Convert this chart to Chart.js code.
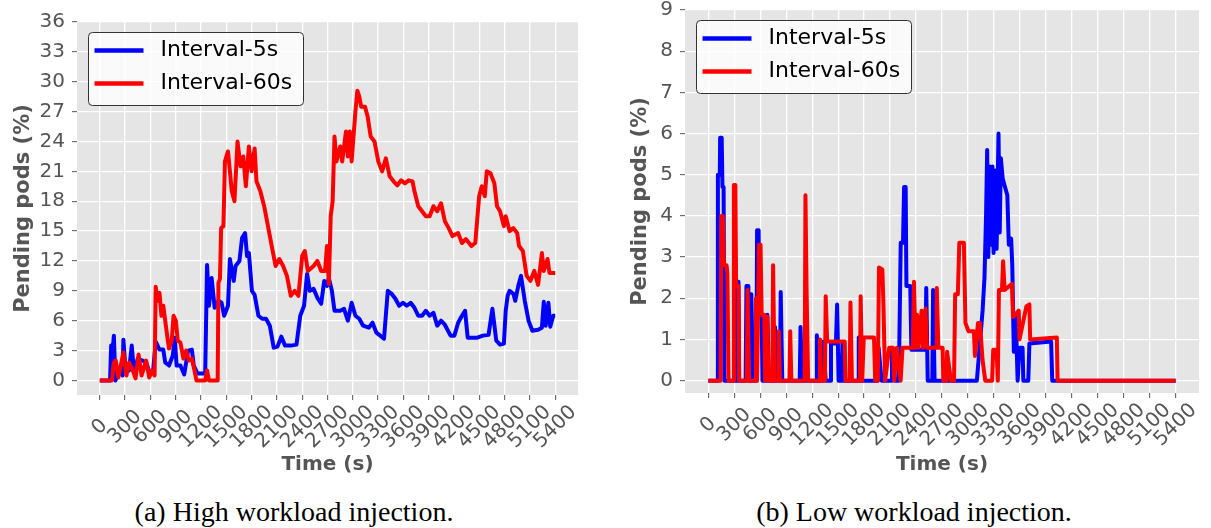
<!DOCTYPE html>
<html>
<head>
<meta charset="utf-8">
<script src="https://cdn.jsdelivr.net/npm/chart.js@4.4.0/dist/chart.umd.min.js"></script>
<style>
  body { margin: 0; background: #fff; width: 1211px; height: 528px; position: relative; overflow: hidden; }
  canvas { position: absolute; top: 0; }
  #chartHigh { left: 0; }
  #chartLow { left: 600px; }
  .caption {
    position: absolute; top: 498px; line-height: 28px; white-space: nowrap;
    font-family: "Liberation Serif", serif; font-size: 28px; color: #000;
    transform: translateX(-50%);
  }
</style>
</head>
<body>
<canvas id="chartHigh" width="600" height="480"></canvas>
<canvas id="chartLow" width="611" height="480"></canvas>
<div class="caption" style="left:294px">(a) High workload injection.</div>
<div class="caption" style="left:914px">(b) Low workload injection.</div>

<script>
// Tick labels
const xTicks = [0, 300, 600, 900, 1200, 1500, 1800, 2100, 2400, 2700, 3000, 3300, 3600, 3900, 4200, 4500, 4800, 5100, 5400]
const yTicksHigh = [0, 3, 6, 9, 12, 15, 18, 21, 24, 27, 30, 33, 36]
const yTicksLow = [0, 1, 2, 3, 4, 5, 6, 7, 8, 9]

// (a) High workload - Interval-5s
const highT5 = [0, 122, 135, 153, 167, 185, 235, 271, 280, 302, 347, 379, 406, 451, 505, 550, 586, 632, 663, 708, 753, 776, 821, 866, 889, 911, 956, 1001, 1047, 1092, 1114, 1159, 1250, 1272, 1295, 1326, 1362, 1407, 1444, 1475, 1520, 1543, 1588, 1610, 1656, 1687, 1723, 1746, 1768, 1804, 1836, 1881, 1926, 1971, 2016, 2062, 2107, 2152, 2197, 2265, 2332, 2377, 2422, 2458, 2490, 2535, 2580, 2625, 2661, 2693, 2716, 2752, 2783, 2851, 2896, 2941, 2986, 3031, 3077, 3122, 3189, 3234, 3280, 3325, 3370, 3415, 3460, 3505, 3550, 3595, 3640, 3686, 3731, 3776, 3821, 3866, 3911, 3956, 4001, 4046, 4091, 4159, 4204, 4249, 4294, 4331, 4362, 4475, 4543, 4610, 4655, 4701, 4746, 4791, 4813, 4836, 4859, 4904, 4926, 4962, 4994, 5039, 5084, 5129, 5197, 5242, 5264, 5287, 5319, 5341, 5377, 5400]
const highV5 = [0, 0, 3.5, 3.0, 4.5, 0, 1.0, 0.5, 4.1, 1.5, 1.0, 3.5, 0.8, 2.2, 2.0, 1.8, 0.9, 0.9, 3.9, 3.1, 3.1, 1.8, 1.5, 2.5, 4.3, 1.5, 1.5, 0.6, 3.0, 3.1, 1.5, 0.7, 0.7, 11.6, 7.5, 10.3, 7.3, 8.0, 7.8, 6.5, 7.5, 12.2, 10.0, 11.5, 12.0, 14.3, 14.8, 12.5, 12.8, 9.0, 8.6, 6.5, 6.2, 6.2, 5.5, 3.3, 3.4, 4.4, 3.5, 3.5, 3.6, 6.5, 7.5, 10.7, 9.0, 9.2, 8.3, 7.7, 10.0, 9.5, 10.3, 9.0, 7.0, 7.0, 7.2, 6.0, 7.8, 6.5, 6.2, 5.5, 5.3, 5.8, 4.8, 4.5, 4.2, 9.0, 8.7, 8.2, 7.5, 7.8, 7.5, 7.8, 7.3, 6.5, 6.5, 7.0, 6.5, 6.8, 5.5, 6.0, 5.6, 4.5, 4.5, 5.8, 6.5, 7.0, 4.3, 4.3, 4.5, 4.6, 7.2, 4.0, 3.6, 3.7, 7.0, 8.5, 9.0, 8.7, 8.0, 9.5, 10.5, 8.0, 6.0, 5.0, 5.1, 5.3, 7.9, 5.5, 7.8, 5.4, 6.5, 6.5]

// (a) High workload - Interval-60s
const highT60 = [0, 144, 167, 189, 221, 280, 316, 347, 392, 424, 460, 496, 550, 586, 618, 650, 663, 686, 708, 731, 753, 776, 799, 821, 853, 875, 902, 925, 956, 992, 1024, 1056, 1092, 1123, 1146, 1250, 1272, 1295, 1398, 1407, 1425, 1439, 1466, 1484, 1520, 1543, 1565, 1597, 1633, 1669, 1701, 1732, 1768, 1800, 1836, 1858, 1904, 1949, 1994, 2039, 2084, 2129, 2174, 2219, 2265, 2310, 2355, 2400, 2431, 2467, 2535, 2580, 2625, 2671, 2693, 2716, 2738, 2761, 2783, 2806, 2851, 2874, 2919, 2941, 2964, 2986, 3031, 3054, 3077, 3099, 3144, 3176, 3212, 3257, 3302, 3347, 3392, 3437, 3483, 3528, 3573, 3618, 3663, 3708, 3731, 3776, 3821, 3866, 3911, 3956, 4001, 4046, 4091, 4137, 4182, 4249, 4294, 4340, 4407, 4452, 4498, 4529, 4565, 4588, 4633, 4678, 4710, 4746, 4791, 4813, 4859, 4904, 4949, 4971, 5016, 5061, 5106, 5152, 5197, 5242, 5264, 5309, 5332, 5400]
const highV60 = [0, 0, 1.8, 2.0, 0.3, 2.8, 0.5, 1.8, 1.0, 0.2, 2.6, 0.5, 2.0, 0.3, 1.0, 0.5, 9.4, 8.0, 8.8, 6.5, 7.5, 6.0, 4.5, 3.2, 4.0, 6.5, 6.0, 4.0, 3.8, 2.2, 3.0, 2.0, 2.2, 1.0, 0, 0, 1.0, 0, 0, 9.8, 10.2, 15.3, 15.5, 22, 23, 21, 19, 18, 24, 21.5, 22.5, 19.5, 23.5, 21, 23.3, 20, 19, 17.5, 15.5, 13.5, 11.5, 12.2, 11.5, 10.5, 8.5, 9, 8.5, 12.5, 13, 11, 11.5, 12, 11, 11, 13.5, 9.7, 16.5, 18, 24.5, 22, 23.5, 22, 25, 22.5, 25, 22, 27, 29.1, 28.5, 27.5, 27.5, 26.5, 24.5, 24, 22, 21, 22.3, 20.5, 20, 19.6, 20.1, 19.8, 20.1, 20, 19, 17.5, 17, 16.5, 16.5, 17.5, 17, 17.8, 16, 15.3, 14.5, 14.8, 13.8, 14.2, 13.5, 13.8, 18.5, 19.5, 18.5, 21, 20.8, 19.8, 17.5, 17, 15.5, 16.5, 15, 15.3, 14.8, 13.5, 13, 10.5, 10, 11, 9.6, 12.8, 11, 12.2, 10.8, 10.8]

// (b) Low workload - Interval-5s
const lowT5 = [0, 101, 110, 132, 136, 154, 163, 176, 185, 321, 330, 348, 356, 431, 440, 462, 471, 488, 497, 515, 555, 563, 581, 590, 616, 625, 673, 682, 700, 761, 770, 788, 827, 836, 854, 1056, 1065, 1083, 1245, 1254, 1276, 1320, 1329, 1356, 1408, 1417, 1474, 1488, 1505, 1540, 1549, 1571, 1730, 1738, 1765, 1958, 1967, 2002, 2112, 2121, 2157, 2200, 2209, 2223, 2249, 2262, 2280, 2289, 2333, 2346, 2509, 2518, 2535, 2588, 2597, 2614, 3103, 3169, 3191, 3209, 3222, 3235, 3252, 3266, 3283, 3296, 3314, 3331, 3353, 3367, 3380, 3402, 3428, 3455, 3472, 3499, 3512, 3530, 3552, 3574, 3596, 3631, 3640, 3697, 3710, 3961, 3974, 5400]
const lowV5 = [0, 0, 5.0, 5.0, 5.9, 5.9, 4.7, 4.7, 0, 0, 2.4, 2.4, 0, 0, 2.3, 2.3, 0, 0, 2.1, 0, 0, 3.65, 3.65, 1.6, 1.6, 0, 0, 1.6, 0, 0, 1.3, 0, 0, 2.15, 0, 0, 1.3, 0, 0, 1.1, 0, 0, 0.95, 0, 0, 0.9, 0.9, 1.85, 0, 0, 0.9, 0, 0, 1.05, 0, 0, 0.8, 0, 0, 0.8, 0, 0, 1.2, 3.35, 3.35, 4.7, 4.7, 2.3, 2.3, 0.75, 0.75, 2.25, 0, 0, 2.2, 0, 0, 1.7, 2.5, 4.0, 5.6, 3.0, 5.2, 3.3, 5.2, 3.1, 5.1, 3.2, 6.0, 3.6, 5.4, 4.9, 4.7, 4.5, 3.3, 3.45, 2.8, 0.7, 1.6, 0, 0.8, 0.8, 0, 0, 0.9, 0.95, 0, 0]

// (b) Low workload - Interval-60s
const lowT60 = [0, 141, 150, 167, 180, 211, 220, 233, 286, 295, 312, 321, 348, 356, 444, 453, 471, 541, 550, 563, 585, 603, 616, 647, 656, 682, 695, 739, 748, 766, 805, 814, 827, 937, 946, 959, 1113, 1122, 1135, 1153, 1281, 1290, 1303, 1347, 1356, 1373, 1576, 1584, 1633, 1642, 1659, 1752, 1760, 1778, 1796, 1914, 1928, 1958, 1972, 2011, 2024, 2042, 2090, 2134, 2147, 2178, 2222, 2244, 2363, 2376, 2394, 2412, 2429, 2464, 2482, 2509, 2526, 2632, 2640, 2658, 2707, 2715, 2751, 2759, 2803, 2839, 2852, 2883, 2900, 2953, 2971, 3006, 3068, 3081, 3116, 3138, 3169, 3200, 3279, 3292, 3331, 3345, 3358, 3393, 3406, 3424, 3508, 3521, 3587, 3596, 3675, 3710, 3719, 4027, 4036, 5400]
const lowV60 = [0, 0, 4.0, 4.0, 2.8, 2.8, 2.6, 0, 0, 4.75, 4.75, 2.3, 2.3, 0, 0, 2.2, 0, 0, 2.0, 0, 3.3, 3.3, 1.6, 1.6, 0, 1.55, 0, 0, 2.8, 0, 0, 1.2, 0, 0, 1.2, 0, 0, 4.5, 2.2, 0, 0, 1.0, 0, 0, 2.05, 0.95, 0.95, 0, 0, 1.9, 0, 0, 2.05, 0, 1.05, 1.05, 0, 0, 2.75, 2.7, 1.8, 0, 0.8, 0.8, 0, 0.8, 0, 0.8, 0.8, 2.4, 0.8, 1.6, 0.8, 1.7, 0.8, 1.75, 0.8, 0.8, 2.25, 0.8, 0.8, 0, 0, 0.7, 0, 0, 2.1, 2.1, 3.35, 3.35, 1.4, 1.2, 1.2, 0.6, 1.4, 1.4, 0.5, 0, 0, 0.75, 0.75, 0, 2.2, 2.2, 2.9, 2.2, 2.35, 1.55, 1.7, 1.0, 1.8, 1.85, 1.0, 1.05, 0, 0]

const GREY = '#555555'
const toPoints = (ts, vs) => ts.map((t, i) => ({ x: t, y: vs[i] }))

// Grey panel behind the plot area
const plotBg = {
  id: 'plotBg',
  beforeDraw(chart) {
    const { ctx, chartArea: a } = chart
    ctx.save()
    ctx.fillStyle = '#E5E5E5'
    ctx.fillRect(a.left, a.top, a.width, a.height)
    ctx.restore()
  },
}

// Framed legend inside the plot area, top left
const boxLegend = {
  id: 'boxLegend',
  afterDatasetsDraw(chart) {
    const { ctx, chartArea: a } = chart
    const x = Math.round(a.left + 11) + 0.5
    const y = Math.round(a.top + 10) + 0.5
    ctx.save()
    ctx.beginPath()
    ctx.roundRect(x, y, 215, 73, 4)
    ctx.fillStyle = 'rgba(255,255,255,0.8)'
    ctx.fill()
    ctx.strokeStyle = '#333333'
    ctx.lineWidth = 1
    ctx.stroke()
    ctx.font = '22px "DejaVu Sans"'
    ctx.textBaseline = 'middle'
    chart.data.datasets.forEach((ds, i) => {
      const ly = y + 18 + i * 33
      ctx.beginPath()
      ctx.moveTo(x + 6, ly)
      ctx.lineTo(x + 55, ly)
      ctx.strokeStyle = ds.borderColor
      ctx.lineWidth = 4.5
      ctx.stroke()
      ctx.fillStyle = '#000'
      ctx.fillText(ds.label, x + 72, ly)
    })
    ctx.restore()
  },
}

function render(canvasId, cfg) {
  const ctx = document.getElementById(canvasId).getContext('2d')
  return new Chart(ctx, {
    type: 'line',
    data: {
      datasets: [
        {
          label: 'Interval-5s',
          data: toPoints(cfg.t5, cfg.v5),
          borderColor: '#0000FF',
          order: 1,
        },
        {
          label: 'Interval-60s',
          data: toPoints(cfg.t60, cfg.v60),
          borderColor: '#FF0000',
          order: 0,
        },
      ],
    },
    options: {
      responsive: false,
      animation: false,
      layout: { padding: { top: cfg.padTop, right: cfg.padRight, left: 0, bottom: 0 } },
      elements: {
        line: { borderWidth: 4, tension: 0, borderJoinStyle: 'round', fill: false },
        point: { radius: 0, hoverRadius: 0 },
      },
      plugins: { legend: { display: false }, tooltip: { enabled: false } },
      scales: {
        x: {
          type: 'linear',
          min: -270,
          max: 5670,
          afterBuildTicks: (s) => { s.ticks = xTicks.map((v) => ({ value: v })) },
          afterFit: (s) => { s.height = 480 - cfg.bottom; s.paddingLeft = 0; s.paddingRight = 0 },
          border: { display: false },
          grid: { color: '#FFFFFF', lineWidth: 1.3, tickColor: GREY, tickLength: 5, tickWidth: 1 },
          ticks: {
            color: GREY,
            font: { family: 'DejaVu Sans', size: 20, lineHeight: 1 },
            minRotation: 45,
            maxRotation: 45,
            autoSkip: false,
            padding: 2,
            labelOffset: 18,
            // pad short labels so each one sits centred under its tick
            callback: (v) => String(v) + ' '.repeat(4 - String(v).length),
          },
          title: {
            display: true,
            text: 'Time (s)',
            color: GREY,
            font: { family: 'DejaVu Sans', size: 20, weight: 'bold', lineHeight: 1.2 },
            padding: { top: 0, bottom: 3 },
          },
        },
        y: {
          min: cfg.yMin,
          max: cfg.yMax,
          afterBuildTicks: (s) => { s.ticks = cfg.yTicks.map((v) => ({ value: v })) },
          afterFit: (s) => { s.width = cfg.axisWidth; s.paddingTop = 0; s.paddingBottom = 0 },
          border: { display: false },
          grid: { color: '#FFFFFF', lineWidth: 1.3, tickColor: GREY, tickLength: 5, tickWidth: 1 },
          ticks: {
            color: GREY,
            font: { family: 'DejaVu Sans', size: 20, lineHeight: 1 },
            padding: 7,
            callback: (v) => String(v),
          },
          title: {
            display: true,
            text: 'Pending pods (%)',
            color: GREY,
            font: { family: 'DejaVu Sans', size: 21, weight: 'bold', lineHeight: 1.2 },
            padding: { top: cfg.titlePad, bottom: 0 },
          },
        },
      },
    },
    plugins: [plotBg, boxLegend],
  })
}

render('chartHigh', {
  t5: highT5, v5: highV5, t60: highT60, v60: highV60,
  yMin: -1.46, yMax: 36, yTicks: yTicksHigh,
  padTop: 22, padRight: 22, bottom: 395, axisWidth: 77, titlePad: 11.4,
})

render('chartLow', {
  t5: lowT5, v5: lowV5, t60: lowT60, v60: lowV60,
  yMin: -0.3, yMax: 9, yTicks: yTicksLow,
  padTop: 10, padRight: 12, bottom: 393, axisWidth: 85, titlePad: 28.4,
})
</script>
</body>
</html>
